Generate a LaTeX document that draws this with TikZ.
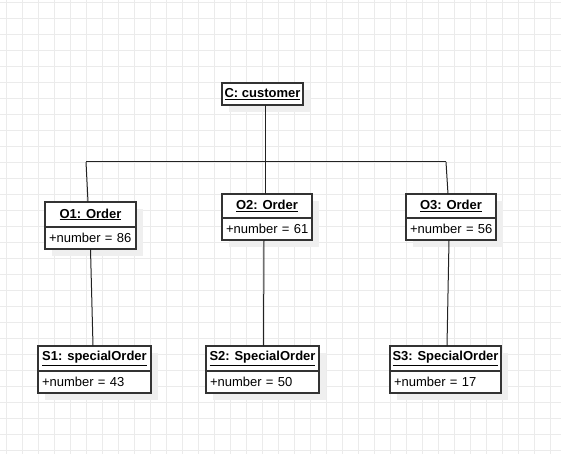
\documentclass[tikz,border=0pt]{standalone}
\usepackage{fontspec}
\setmainfont{Liberation Sans}
\usetikzlibrary{shadows}
\definecolor{gridc}{HTML}{EBEBEB}
\definecolor{boxc}{HTML}{333333}
\definecolor{shadowc}{HTML}{EFEFEF}
\definecolor{linec}{HTML}{222222}
\begin{document}
\begin{tikzpicture}[x=1pt,y=-1pt,
  gridline/.style={draw=gridc, line width=0.9pt},
  objbox/.style={draw=boxc, line width=1.4pt, fill=white, inner sep=0pt, outer sep=0pt,
     anchor=north west, font=\fontsize{13}{15}\selectfont,
     drop shadow={shadow xshift=7pt, shadow yshift=-7pt, fill=shadowc, opacity=1}},
  ttl/.style={objbox, font=\fontsize{13}{15}\selectfont\bfseries, align=center},
  attr/.style={objbox, inner xsep=4pt, align=left},
  conn/.style={draw=linec, line width=1pt}]
\useasboundingbox (0,0) rectangle (561,454);
\fill[white] (0,0) rectangle (561,454);
\foreach \gx in {6,22,...,560} \draw[gridline] (\gx,0) -- (\gx,454);
\foreach \gy in {2,18,...,453} \draw[gridline] (0,\gy) -- (561,\gy);

% customer
\node[ttl, minimum width=81pt, minimum height=22pt] (c) at (222,83) {\underline{C: customer}};

% orders
\node[ttl, minimum width=91pt, minimum height=25pt] (o1) at (45,202) {\underline{O1: Order}};
\node[attr, text width=83pt, minimum height=22pt] (o1a) at (o1.south west) {\mbox{+number = 86}};

\node[ttl, minimum width=90pt, minimum height=24pt] (o2) at (222,194) {\underline{O2: Order}};
\node[attr, text width=82pt, minimum height=22pt] (o2a) at (o2.south west) {\mbox{+number = 61}};

\node[ttl, minimum width=90pt, minimum height=24pt] (o3) at (406,194) {\underline{O3: Order}};
\node[attr, text width=82pt, minimum height=22pt] (o3a) at (o3.south west) {\mbox{+number = 56}};

% special orders
\node[ttl, minimum width=113pt, minimum height=25pt] (s1) at (38,346) {\underline{S1: specialOrder}};
\node[attr, text width=105pt, minimum height=22pt] (s1a) at (s1.south west) {\mbox{+number = 43}};

\node[ttl, minimum width=113pt, minimum height=25pt] (s2) at (206,346) {\underline{S2: SpecialOrder}};
\node[attr, text width=105pt, minimum height=22pt] (s2a) at (s2.south west) {\mbox{+number = 50}};

\node[ttl, minimum width=111pt, minimum height=25pt] (s3) at (390,346) {\underline{S3: SpecialOrder}};
\node[attr, text width=103pt, minimum height=22pt] (s3a) at (s3.south west) {\mbox{+number = 17}};

% connectors
\coordinate (busL) at (86,162);
\coordinate (busR) at (446,162);
\draw[conn] ([xshift=2.5pt]c.south) -- ([xshift=-2pt]o2.north);
\draw[conn] (busL) -- (busR);
\draw[conn] (busL) -- ([xshift=-2.5pt]o1.north);
\draw[conn] (busR) -- ([xshift=-3pt]o3.north);
\draw[conn] (o1a.south) -- ([xshift=-1.5pt]s1.north);
\draw[conn] ([xshift=-3pt]o2a.south) -- ([xshift=1pt]s2.north);
\draw[conn] ([xshift=-2pt]o3a.south) -- ([xshift=1.5pt]s3.north);
\end{tikzpicture}
\end{document}
